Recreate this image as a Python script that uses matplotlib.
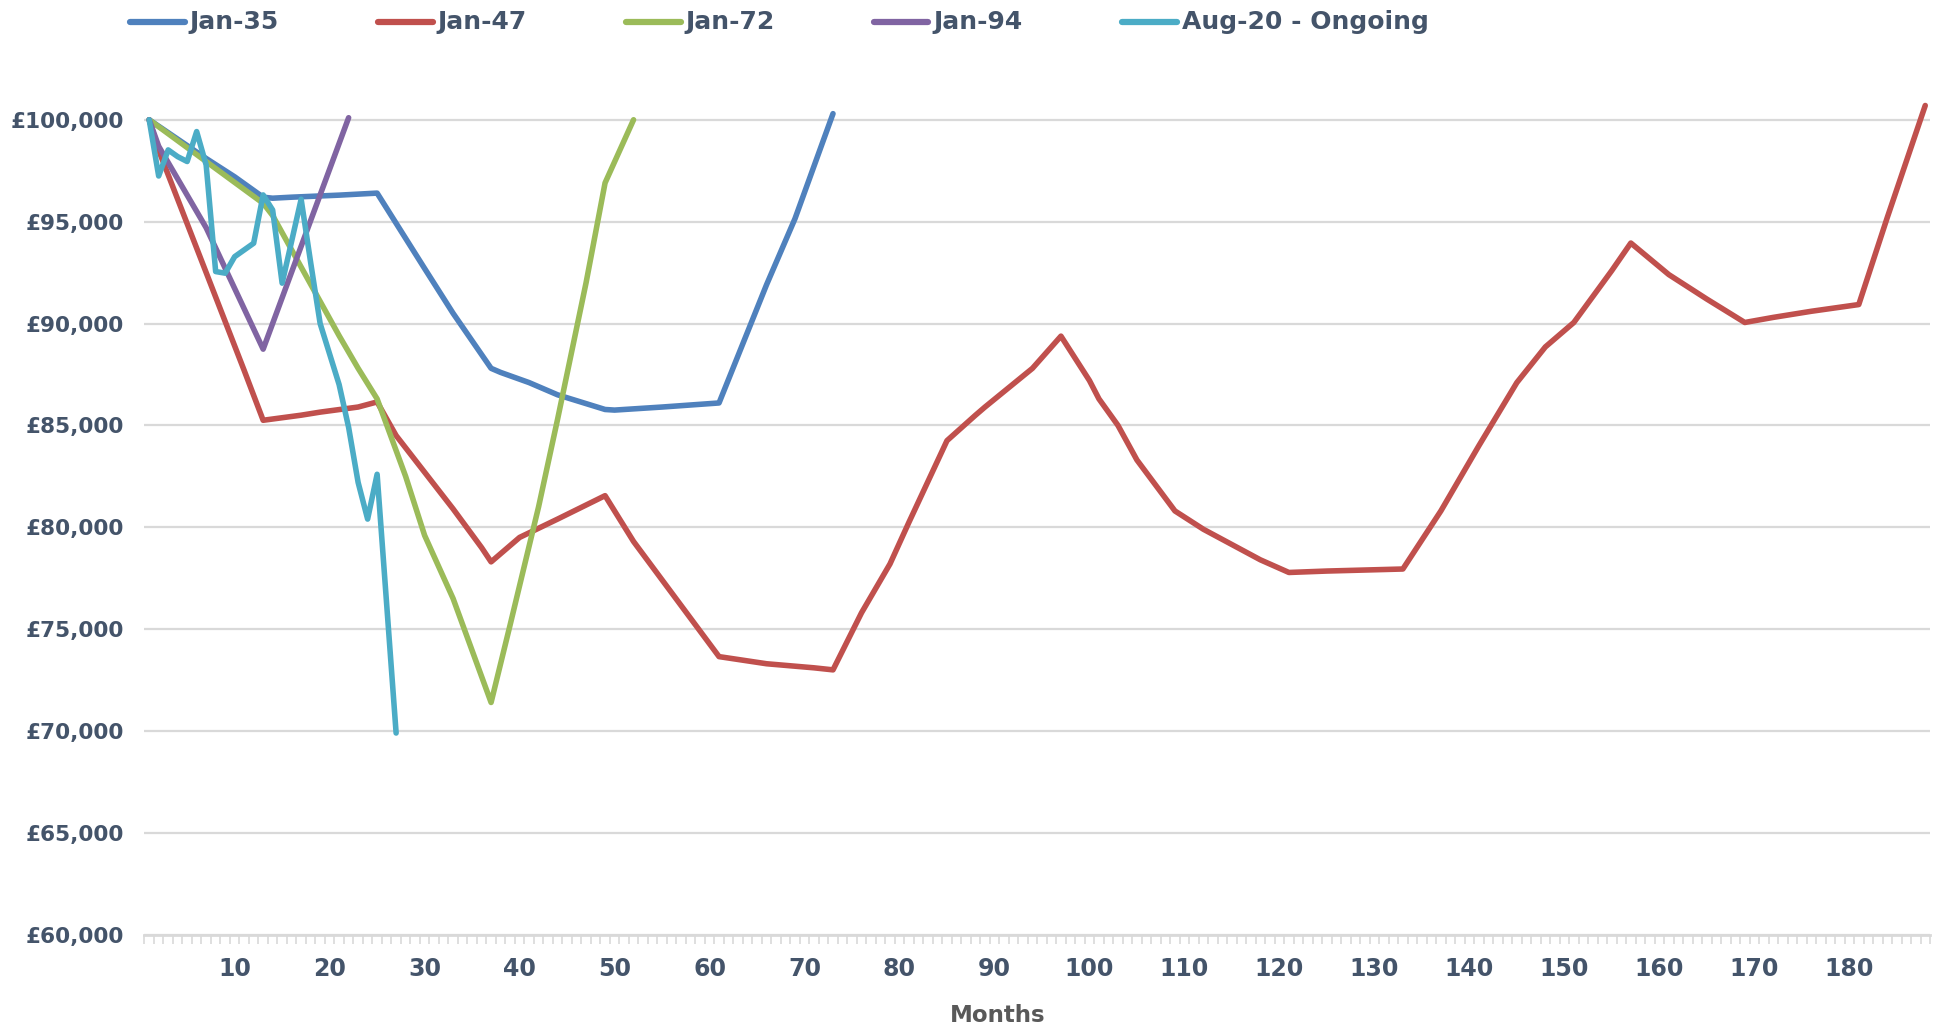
import numpy as np
import matplotlib.pyplot as plt
from matplotlib.lines import Line2D
from matplotlib.ticker import FuncFormatter

# Value of £100,000 invested at the start of each market fall, by month
jan35_months = [1, 7, 10, 13, 14, 16, 21, 23, 25, 30, 33, 37, 38, 41, 44, 49, 50, 55, 61, 66, 69, 73]
jan35_values = [100000, 98100, 97200, 96200, 96150, 96200, 96300, 96350, 96400, 92700, 90500, 87800,
                87600, 87100, 86500, 85780, 85750, 85900, 86100, 91900, 95150, 100300]

jan47_months = [1, 2, 11, 13, 17, 19, 23, 25, 27, 30, 33, 36, 37, 40, 44, 49, 52, 61, 66, 71, 73,
                76, 79, 81, 85, 88, 89, 94, 97, 100, 101, 103, 105, 109, 112, 115, 118, 121, 125,
                129, 133, 137, 141, 145, 148, 151, 155, 157, 161, 165, 169, 172, 176, 181, 184, 188]
jan47_values = [100000, 98500, 87700, 85250, 85500, 85650, 85900, 86150, 84500, 82700, 80900, 79000,
                78300, 79500, 80400, 81550, 79300, 73650, 73300, 73100, 73000, 75800, 78200, 80250,
                84250, 85500, 85900, 87800, 89380, 87200, 86300, 85000, 83300, 80800, 79900, 79150,
                78400, 77780, 77850, 77900, 77950, 80800, 84000, 87100, 88850, 90050, 92600, 93950,
                92400, 91200, 90050, 90300, 90600, 90930, 95200, 100700]

jan72_months = [1, 13, 14, 21, 23, 25, 28, 30, 33, 37, 39, 42, 44, 47, 49, 52]
jan72_values = [100000, 95900, 95300, 89400, 87800, 86300, 82500, 79600, 76500, 71400, 75200,
                81000, 85300, 92000, 96900, 100000]

jan94_months = [1, 2, 3, 7, 13, 22]
jan94_values = [100000, 98700, 97900, 94700, 88740, 100100]

aug20_months = [1, 2, 3, 4, 5, 6, 7, 8, 9, 10, 12, 13, 14, 15, 17, 18, 19, 21, 22, 23, 24, 25, 27]
aug20_values = [100000, 97240, 98520, 98190, 97950, 99420, 97780, 92550, 92470, 93280, 93940,
                96310, 95570, 91980, 96100, 93000, 90000, 87000, 84900, 82200, 80400, 82600, 69900]

series_names = ['Jan-35', 'Jan-47', 'Jan-72', 'Jan-94', 'Aug-20 - Ongoing']
series_colors = ['#4F81BD', '#C0504D', '#9BBB59', '#8064A2', '#4BACC6']

y_ticks = list(range(60000, 100001, 5000))
x_labels = list(range(10, 181, 10))
n_months = 188

text_color = '#44546A'
grid_color = '#D9D9D9'
narrow = ['DejaVu Sans Condensed', 'Liberation Sans Narrow', 'DejaVu Sans']

fig = plt.figure(figsize=(19.36, 10.30), dpi=100)
ax = fig.add_axes([0.0746, 0.0925, 0.9223, 0.8209])

all_months = [jan35_months, jan47_months, jan72_months, jan94_months, aug20_months]
all_values = [jan35_values, jan47_values, jan72_values, jan94_values, aug20_values]
for months, values, color in zip(all_months, all_values, series_colors):
    ax.plot(months, values, color=color, linewidth=4.0, solid_joinstyle='round',
            solid_capstyle='round', zorder=3)

ax.set_xlim(0.5, n_months + 0.5)
ax.set_ylim(60000, 101500)

# y axis: currency labels, no tick marks
ax.set_yticks(y_ticks)
ax.yaxis.set_major_formatter(FuncFormatter(lambda v, p: '£{:,.0f}'.format(v)))
ax.tick_params(axis='y', length=0, pad=15, labelsize=15.6, labelcolor=text_color)
for lab in ax.get_yticklabels():
    lab.set_fontweight('bold')
ax.grid(axis='y', color=grid_color, linewidth=1.6, zorder=0)

# x axis: a tick between every month, labels every 10 months
ax.set_xticks(x_labels)
ax.set_xticks(np.arange(0.5, n_months + 1, 1), minor=True)
ax.tick_params(axis='x', which='major', length=0, pad=16, labelsize=17, labelcolor=text_color)
ax.tick_params(axis='x', which='minor', length=6.2, width=1.2, color=grid_color)
for lab in ax.get_xticklabels():
    lab.set_fontweight('bold')
    lab.set_family(narrow)

for side in ['top', 'right', 'left']:
    ax.spines[side].set_visible(False)
ax.spines['bottom'].set_color(grid_color)
ax.spines['bottom'].set_linewidth(2)

fig.text(0.5153, 0.0136, 'Months', ha='center', va='center', fontsize=16.5, fontweight='bold',
         color='#595959', family=narrow)

# legend laid out in equal-width slots across the top
for i, (name, color) in enumerate(zip(series_names, series_colors)):
    x0 = (129.5 + i * 248) / 1936
    fig.add_artist(Line2D([x0, x0 + 55 / 1936], [0.9786, 0.9786], color=color, linewidth=4.5,
                          solid_capstyle='round', transform=fig.transFigure))
    fig.text(x0 + 60 / 1936, 0.9786, name, ha='left', va='center', fontsize=18,
             fontweight='bold', color=text_color, family=narrow)

fig.savefig('out.png', dpi=100, facecolor='white')
